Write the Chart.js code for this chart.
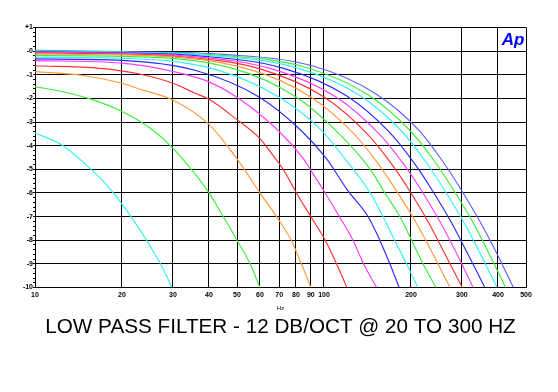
<!DOCTYPE html>
<html>
<head>
<meta charset="utf-8">
<script src="https://cdn.jsdelivr.net/npm/chart.js@4/dist/chart.umd.min.js"></script>
<style>
  html, body { margin: 0; padding: 0; background: #fff; }
  #wrap { width: 558px; height: 392px; position: relative; }
</style>
</head>
<body>
<div id="wrap"><canvas id="c" width="558" height="392"></canvas></div>
<script>
// ---- Data (frequency in Hz, level in dB) ----
const cutoffLabels = ['20 Hz','40 Hz','60 Hz','80 Hz','100 Hz','120 Hz','140 Hz','160 Hz',
                      '180 Hz','200 Hz','220 Hz','240 Hz','260 Hz','280 Hz','300 Hz'];

const lp20  = [[10,-3.45],[12.5,-4.0],[15,-4.8],[17.5,-5.6],[20,-6.47],[22,-7.18],[24.4,-8.03],[27.4,-9.08],[29.8,-10]];
const lp40  = [[10,-1.5],[12.5,-1.72],[15.5,-2.02],[20,-2.55],[25,-3.25],[30,-4.1],[35,-5.05],[40,-6.0],[44.8,-7],[50,-8],[55.5,-9],[60,-10]];
const lp60  = [[10,-0.87],[14.3,-1.01],[20,-1.36],[23.1,-1.61],[30,-2.07],[40,-3.1],[47.2,-4.15],[53,-5],[60,-6],[68.5,-7],[77,-8],[83.5,-9],[90,-10]];
const lp80  = [[10,-0.62],[16.8,-0.73],[23,-0.97],[30,-1.36],[35.8,-1.78],[40,-2.04],[50,-2.9],[60,-3.7],[66.4,-4.39],[72.2,-5],[80.3,-6],[90,-7],[101,-8],[110.5,-9],[120,-10]];
const lp100 = [[10,-0.40],[20,-0.51],[30,-0.86],[40,-1.3],[50,-1.95],[70,-3.4],[84.6,-4.53],[89.6,-5],[101,-6],[113,-7],[126,-8],[137,-9],[152,-10]];
const lp120 = [[10,-0.33],[20,-0.39],[36,-0.82],[60,-1.96],[84,-3.4],[102,-4.55],[120,-5.85],[142,-7],[156,-8],[169,-9],[182,-10]];
const lp140 = [[10,-0.26],[20,-0.30],[42,-0.77],[70,-1.95],[98,-3.35],[119,-4.6],[144.6,-6],[160,-7],[175.5,-8],[193,-9],[211,-10]];
const lp160 = [[10,-0.19],[20,-0.22],[48,-0.72],[80,-1.94],[112,-3.46],[144.6,-5],[162.5,-6],[183,-7],[201,-8],[220,-9],[244,-10]];
const lp180 = [[10,-0.13],[20,-0.16],[54,-0.74],[90,-1.94],[126,-3.46],[153,-4.72],[180,-6],[207,-7.2],[234,-8.4],[273,-10]];
const lp200 = [[10,-0.08],[20,-0.12],[30,-0.21],[60,-0.75],[100,-1.94],[140,-3.46],[170,-4.72],[200,-6],[230,-7.25],[260,-8.5],[301,-10]];
const lp220 = [[10,-0.05],[20,-0.09],[33,-0.20],[66,-0.75],[110,-1.94],[154,-3.46],[187,-4.72],[220,-6],[253,-7.25],[286,-8.5],[328,-10]];
const lp240 = [[10,-0.03],[20,-0.07],[36,-0.19],[72,-0.72],[120,-1.9],[168,-3.42],[204,-4.7],[240,-6],[276,-7.25],[312,-8.5],[360,-10]];
const lp260 = [[10,-0.01],[20,-0.05],[40,-0.18],[80,-0.7],[133,-1.88],[186,-3.4],[225,-4.68],[265,-6],[305,-7.25],[345,-8.5],[397,-10]];
const lp280 = [[10,0.01],[20,-0.04],[42,-0.16],[85,-0.66],[142,-1.85],[199,-3.38],[242,-4.68],[285,-6],[328,-7.25],[370,-8.5],[425,-10]];
const lp300 = [[10,0.03],[20,-0.02],[45,-0.14],[91,-0.62],[151,-1.8],[212,-3.32],[257,-4.65],[303,-6],[348,-7.25],[394,-8.5],[452,-10]];

const curves = [lp20, lp40, lp60, lp80, lp100, lp120, lp140, lp160, lp180, lp200, lp220, lp240, lp260, lp280, lp300];
const curveColors = ['#33f2f2','#3cee3c','#ff9a3c','#ff3030','#ff3cff','#2a2aff',
                     '#33f2f2','#3cee3c','#ff9a3c','#ff3030','#ff3cff','#2a2aff',
                     '#33f2f2','#3cee3c','#5f5fff'];

const xTickValues = [10,20,30,40,50,60,70,80,90,100,200,300,400,500];
const xTickLabels = ['10','20','30','40','50','60','70','80','90','100','200','300','400','500'];
const yTickValues = [1,0,-1,-2,-3,-4,-5,-6,-7,-8,-9,-10];
const yTickLabels = ['+1','-0','-1','-2','-3','-4','-5','-6','-7','-8','-9','-10'];

const titleText = 'LOW PASS FILTER - 12 DB/OCT @ 20 TO 300 HZ';
const xTitle = 'Hz';

// ---- Chart ----
const datasets = curves.map((pts, i) => ({
  label: cutoffLabels[i],
  data: pts.map(p => ({ x: p[0], y: p[1] })),
  borderColor: curveColors[i],
  borderWidth: 1.15,
  pointRadius: 0,
  fill: false,
  cubicInterpolationMode: 'monotone'
}));

const logoPlugin = {
  id: 'apLogo',
  afterDraw(chart) {
    const { ctx, chartArea: a } = chart;
    ctx.save();
    ctx.font = 'italic bold 17px "Liberation Sans", Arial, sans-serif';
    ctx.fillStyle = '#0000ff';
    ctx.textAlign = 'right';
    ctx.textBaseline = 'alphabetic';
    ctx.fillText('Ap', a.right - 1.5, a.top + 17);
    ctx.restore();
  }
};

const isInt = v => Math.abs(v - Math.round(v)) < 1e-6;
const FONT = '"Liberation Sans", Arial, sans-serif';

new Chart(document.getElementById('c'), {
  type: 'line',
  data: { datasets },
  plugins: [logoPlugin],
  options: {
    responsive: false,
    animation: false,
    devicePixelRatio: 1,
    layout: { padding: { left: 0, right: 32, top: 27.5, bottom: 52.7 } },
    plugins: {
      legend: { display: false },
      tooltip: { enabled: false },
      title: {
        display: true,
        position: 'bottom',
        fullSize: false,
        text: titleText,
        color: '#000',
        font: { family: FONT, size: 20.7, weight: 'normal', lineHeight: 1.19 },
        padding: { top: 0, bottom: 0 }
      }
    },
    scales: {
      x: {
        type: 'logarithmic',
        min: 10, max: 500,
        afterBuildTicks: s => { s.ticks = xTickValues.map(v => ({ value: v })); },
        afterFit: s => { s.height = 27.2; },
        ticks: {
          autoSkip: false, maxRotation: 0, minRotation: 0,
          padding: 3,
          color: '#000',
          font: { family: FONT, size: 7, weight: 'bold' },
          callback: function (v) { const i = xTickValues.indexOf(v); return i >= 0 ? xTickLabels[i] : ''; }
        },
        grid: { color: '#000', lineWidth: 1, drawTicks: false },
        border: { color: '#000', width: 1 },
        title: {
          display: true, text: xTitle, color: '#000',
          font: { family: FONT, size: 6, lineHeight: 1.2 },
          padding: { top: 0, bottom: 3.1 }
        }
      },
      y: {
        type: 'linear',
        min: -10, max: 1,
        afterBuildTicks: s => { const t = []; for (let i = 5; i >= -50; i--) t.push({ value: i / 5 }); s.ticks = t; },
        afterFit: s => { s.width = 35; },
        ticks: {
          autoSkip: false,
          padding: 0,
          color: '#000',
          font: { family: FONT, size: 7, weight: 'bold' },
          callback: function (v) { const i = yTickValues.indexOf(v); return i >= 0 ? yTickLabels[i] : ''; }
        },
        grid: {
          color: c => isInt(c.tick.value) ? '#000' : 'rgba(0,0,0,0)',
          tickColor: '#000',
          tickLength: 2,
          lineWidth: 1
        },
        border: { color: '#000', width: 1 }
      }
    }
  }
});
</script>
</body>
</html>
